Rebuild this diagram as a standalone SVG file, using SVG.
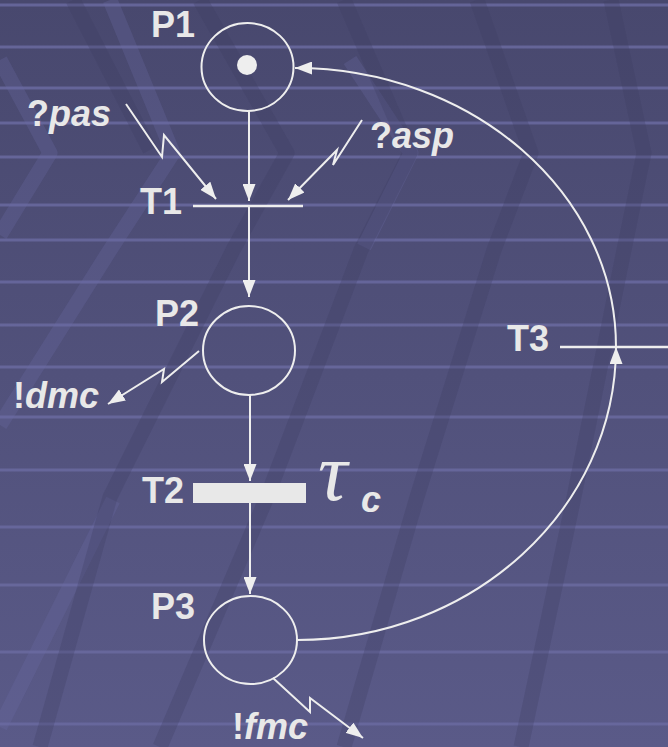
<svg xmlns="http://www.w3.org/2000/svg" width="668" height="747" viewBox="0 0 668 747">
  <defs>
    <linearGradient id="bg" x1="0" y1="0" x2="0" y2="1">
      <stop offset="0" stop-color="#48486e"/>
      <stop offset="1" stop-color="#5a5a88"/>
    </linearGradient>
    <marker id="ah" viewBox="0 0 17 13" refX="17" refY="6.5" markerWidth="17" markerHeight="13" markerUnits="userSpaceOnUse" orient="auto">
      <path d="M0,0 L17,6.5 L0,13 Z" fill="#eeeeee"/>
    </marker>
    <style>
      .stripe { stroke: #6a6aa0; stroke-width: 3; opacity: 0.85; }
      .dband { fill: none; stroke: #3c3c62; stroke-width: 15; opacity: 0.28; stroke-linejoin: round; }
      .lband { fill: none; stroke: #6a6aa4; stroke-width: 15; opacity: 0.28; stroke-linejoin: round; }
      .arrow { fill: none; stroke: #eeeeee; stroke-width: 2; marker-end: url(#ah); }
      .place { fill: none; stroke: #eeeeee; stroke-width: 2; }
      .bar { stroke: #eeeeee; stroke-width: 2.5; }
      .lbl { font-family: "Liberation Sans", Arial, sans-serif; font-weight: bold; font-size: 36px; fill: #e8e8e8; }
      .end { text-anchor: end; }
      .it { font-style: italic; }
      .tau { font-family: "Liberation Serif", "Times New Roman", serif; font-style: italic; font-size: 82px; fill: #e8e8e8; }
    </style>
  </defs>

  <g id="background">
    <rect x="0" y="0" width="668" height="747" fill="url(#bg)"/>
    <line class="stripe" x1="0" y1="5" x2="668" y2="5"/>
    <line class="stripe" x1="0" y1="47" x2="668" y2="47"/>
    <line class="stripe" x1="0" y1="88" x2="668" y2="88"/>
    <line class="stripe" x1="0" y1="123" x2="668" y2="123"/>
    <line class="stripe" x1="0" y1="157" x2="668" y2="157"/>
    <line class="stripe" x1="0" y1="205" x2="668" y2="205"/>
    <line class="stripe" x1="0" y1="240" x2="668" y2="240"/>
    <line class="stripe" x1="0" y1="282" x2="668" y2="282"/>
    <line class="stripe" x1="0" y1="325" x2="668" y2="325"/>
    <line class="stripe" x1="0" y1="367" x2="668" y2="367"/>
    <line class="stripe" x1="0" y1="417" x2="668" y2="417"/>
    <line class="stripe" x1="0" y1="470" x2="668" y2="470"/>
    <line class="stripe" x1="0" y1="527" x2="668" y2="527"/>
    <line class="stripe" x1="0" y1="585" x2="668" y2="585"/>
    <line class="stripe" x1="0" y1="652" x2="668" y2="652"/>
    <line class="stripe" x1="0" y1="724" x2="668" y2="724"/>
    <polyline class="lband" points="0,60 50,153 0,235"/>
    <polyline class="lband" points="110,0 173,153 110,250 0,425"/>
    <polyline class="lband" points="113,500 0,727"/>
    <polyline class="lband" points="350,60 411,153 364,247"/>
    <polyline class="dband" points="73,0 150,150"/>
    <polyline class="dband" points="200,0 287,153 233,250 110,497 40,747"/>
    <polyline class="dband" points="344,0 410,153 361,250 267,497 160,747"/>
    <polyline class="dband" points="477,0 531,153 494,250 417,497 344,747"/>
    <polyline class="dband" points="611,0 644,153 624,250 574,497 521,747"/>
  </g>

  <g id="connectors">
    <line class="arrow" x1="249" y1="111" x2="249" y2="201"/>
    <line class="arrow" x1="249" y1="206" x2="249" y2="297"/>
    <line class="arrow" x1="250" y1="395" x2="250" y2="481"/>
    <line class="arrow" x1="250" y1="503" x2="250" y2="594"/>
    <path class="arrow" d="M297,640 C473,640 616,509 616,347"/>
    <path class="arrow" d="M616,347 C616,193 472,68 295,68"/>
    <polyline class="arrow" points="126,104 162,157 164,135 216,199"/>
    <polyline class="arrow" points="362,120 333,165 337,150 288,200"/>
    <polyline class="arrow" points="199,351 162,382 164,369 108,404"/>
    <polyline class="arrow" points="273,678 310,712 310,698 363,738"/>
  </g>

  <g id="labels">
    <text class="lbl" x="27" y="126">?<tspan class="it">pas</tspan></text>
    <text class="lbl" x="370" y="148">?<tspan class="it">asp</tspan></text>
    <text class="lbl" x="13" y="408">!<tspan class="it">dmc</tspan></text>
    <text class="lbl" x="232" y="739">!<tspan class="it">fmc</tspan></text>
  </g>

  <g id="P1">
    <ellipse class="place" cx="247.5" cy="67" rx="46" ry="44"/>
    <circle cx="247" cy="65" r="10" fill="#eeeeee"/>
    <text class="lbl" x="151" y="37">P1</text>
  </g>
  <g id="T1">
    <line class="bar" x1="193" y1="206" x2="303" y2="206"/>
    <text class="lbl end" x="182" y="214">T1</text>
  </g>
  <g id="P2">
    <ellipse class="place" cx="249" cy="350.5" rx="46" ry="44.5"/>
    <text class="lbl" x="155" y="326">P2</text>
  </g>
  <g id="T2">
    <rect x="193" y="483" width="113" height="20" fill="#e8e8e8"/>
    <text class="lbl end" x="184" y="503">T2</text>
    <text class="tau" x="318" y="500">τ</text>
    <text class="lbl it" x="361" y="512">c</text>
  </g>
  <g id="P3">
    <ellipse class="place" cx="250.5" cy="640" rx="46.5" ry="44"/>
    <text class="lbl" x="151" y="619">P3</text>
  </g>
  <g id="T3">
    <line class="bar" x1="560" y1="347" x2="668" y2="347"/>
    <text class="lbl end" x="549" y="351">T3</text>
  </g>
</svg>
